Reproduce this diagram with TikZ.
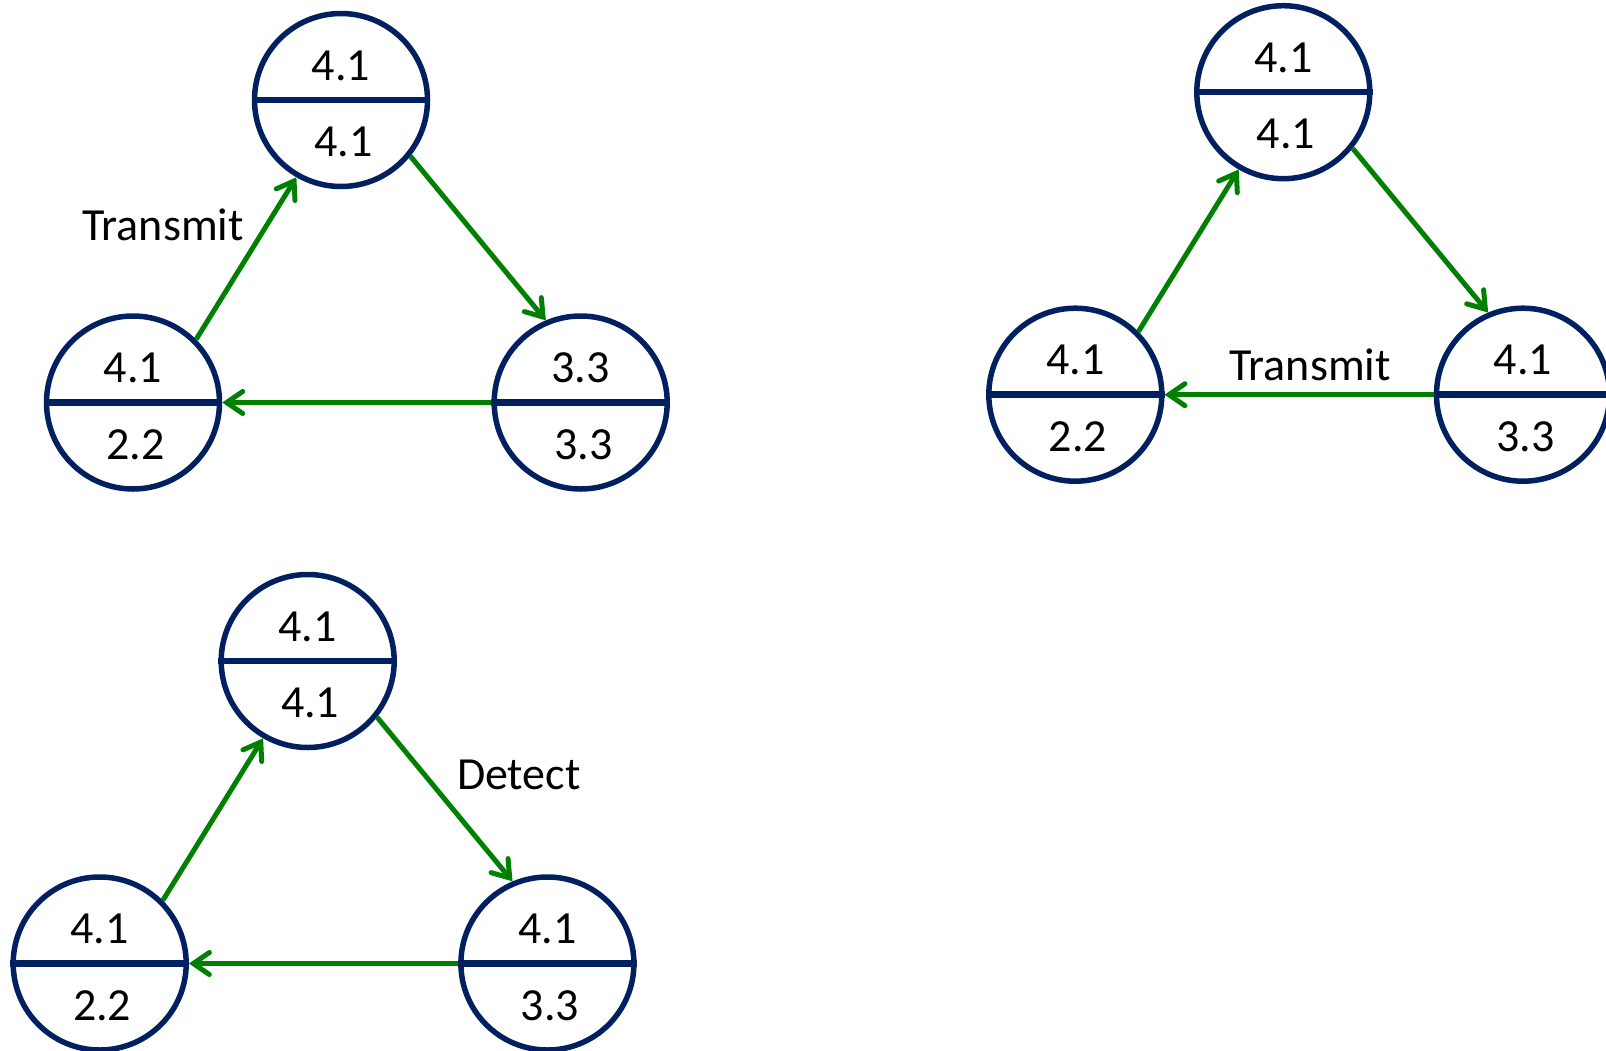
\documentclass[tikz,border=0pt]{standalone}
\usepackage{fontspec}
\setmainfont{Carlito}
\usetikzlibrary{arrows.meta}
\definecolor{navy}{HTML}{002060}
\definecolor{grn}{HTML}{008000}
\tikzset{
 state/.style={circle, draw=navy, line width=5.5pt, minimum size=173pt, inner sep=0pt},
 divider/.style={draw=navy, line width=6.5pt},
 num/.style={anchor=base, inner sep=0pt, font=\fontsize{46}{55}\selectfont},
 flow/.style={draw=grn, line width=5pt, -{Straight Barb[length=16pt,width=22pt,line cap=round]}},
 lbl/.style={anchor=base, inner sep=0pt, font=\fontsize{46}{55}\selectfont},
}
\newcommand\drawpanel[9]{%
\begin{scope}[shift={(#2,#3)}]
 \node[state] (#1t) at (0,0) {};
 \node[state] (#1l) at (-208,302.5) {};
 \node[state] (#1r) at (239.7,302.5) {};
 \draw[divider] (#1t.west) -- (#1t.east);
 \draw[divider] (#1l.west) -- (#1l.east);
 \draw[divider] (#1r.west) -- (#1r.east);
 \node[num] (#1tu) at (0,-20) {#4};
 \node[num] (#1tb) at (2.5,56.7) {#5};
 \node[num] (#1lu) at (-208,282.5) {#6};
 \node[num] (#1lb) at (-205.5,359.2) {#7};
 \node[num] (#1ru) at (239.7,282.5) {#8};
 \node[num] (#1rb) at (242.2,359.2) {#9};
 \draw[flow] (#1l.45) -- (#1t.240);
 \draw[flow] (#1t.-39) -- (#1r.113);
 \draw[flow] (#1r.west) -- (#1l.east);
\end{scope}}
\begin{document}
\begin{tikzpicture}[x=1pt,y=-1pt]
\useasboundingbox (0,0) rectangle (1606,1050);
\fill[white] (0,0) rectangle (1606,1050);
\drawpanel{a}{341}{100}{4.1}{4.1}{4.1}{2.2}{3.3}{3.3}
\drawpanel{b}{1283.3}{92.2}{4.1}{4.1}{4.1}{2.2}{4.1}{3.3}
\drawpanel{c}{307.7}{661}{4.1}{4.1}{4.1}{2.2}{4.1}{3.3}
\node[lbl] (la) at (163,240) {Transmit};
\node[lbl] (lb) at (1310,380) {Transmit};
\node[lbl] (lc) at (518.8,789.3) {Detect};
\end{tikzpicture}
\end{document}
